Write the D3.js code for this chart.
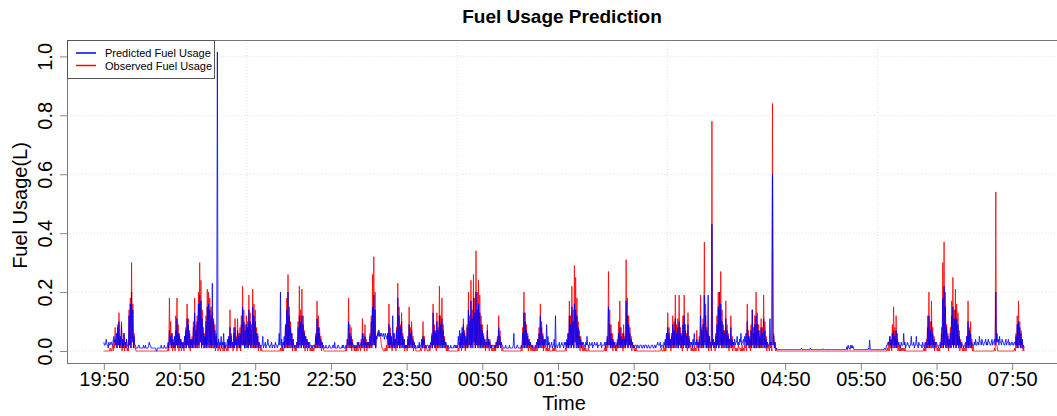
<!DOCTYPE html>
<html lang="en">

<head>
  <meta charset="UTF-8">
  <title>Fuel Usage Prediction</title>
  <style>
    body {
      margin: 0;
      background: #fff;
    }

    svg {
      display: block;
      font-family: "Liberation Sans", Arial, Helvetica, sans-serif;
    }

    .grid line {
      stroke: #e2e2e2;
      stroke-dasharray: 1 2;
    }

    .axis path.domain {
      display: none;
    }

    .axis line {
      stroke: #888;
    }

    .axis text {
      font-size: 20px;
      fill: #000;
    }
  </style>
</head>

<body>
  <div id="chart"></div>
  <script src="https://d3js.org/d3.v7.min.js"></script>
  <script>
    // readings are 30 seconds apart, starting at 19:50
    const startTime = '19:50'
    const stepSeconds = 30
    const tickLabels = ['19:50', '20:50', '21:50', '22:50', '23:50', '00:50', '01:50',
      '02:50', '03:50', '04:50', '05:50', '06:50', '07:50']
    const gridTimes = ['21:43:20', '00:30:00', '03:16:40', '06:03:20']
    const yTicks = [0, 0.2, 0.4, 0.6, 0.8, 1.0]

    // fuel used per reading, in centilitres (one row = 10 minutes)
    const observedCl = [
      0, 0, 0, 0, 0, 0, 0, 0, 0, 0, 1, 0, 0, 1, 2, 0, 4, 1, 8, 2,           // 19:50
      3, 1, 9, 2, 13, 1, 5, 1, 10, 0, 4, 1, 6, 0, 3, 1, 4, 0, 1, 0,
      14, 2, 18, 1, 30, 4, 16, 1, 6, 1, 1, 0, 0, 0, 0, 0, 0, 0, 0, 0,
      0, 0, 0, 0, 0, 0, 0, 0, 0, 0, 0, 0, 0, 0, 0, 0, 0, 0, 0, 0,
      0, 0, 0, 0, 0, 0, 0, 0, 0, 0, 0, 0, 0, 0, 0, 0, 0, 0, 0, 0,
      0, 0, 2, 0, 18, 3, 10, 1, 6, 0, 4, 1, 3, 0, 12, 2, 18, 1, 9, 0,       // 20:40
      6, 1, 4, 0, 3, 1, 2, 0, 5, 1, 8, 1, 16, 2, 11, 1, 7, 0, 4, 1,
      5, 1, 10, 1, 18, 2, 9, 1, 12, 2, 20, 1, 30, 3, 24, 1, 14, 2, 8, 1,
      6, 1, 12, 2, 21, 1, 20, 3, 18, 1, 15, 2, 13, 1, 11, 1, 9, 0, 6, 1,
      3, 0, 2, 1, 1, 0, 2, 1, 1, 0, 3, 0, 2, 1, 1, 0, 2, 0, 4, 1,
      14, 1, 6, 1, 3, 0, 8, 1, 11, 2, 5, 0, 11, 1, 6, 1, 8, 0, 12, 2,
      22, 2, 14, 1, 9, 1, 12, 2, 10, 1, 19, 2, 13, 1, 9, 1, 21, 3, 16, 1,   // 21:40
      14, 1, 8, 1, 6, 0, 3, 1, 2, 0, 1, 0, 0, 0, 0, 0, 0, 0, 0, 0,
      0, 0, 0, 0, 0, 0, 0, 0, 0, 0, 0, 0, 0, 0, 0, 0, 0, 0, 0, 0,
      1, 0, 2, 0, 1, 0, 3, 1, 8, 1, 18, 2, 26, 1, 15, 2, 10, 1, 6, 0,
      4, 1, 2, 0, 1, 0, 3, 1, 10, 1, 22, 2, 14, 1, 21, 2, 12, 1, 7, 0,
      5, 1, 4, 0, 3, 1, 2, 0, 1, 0, 1, 0, 1, 0, 2, 1, 6, 1, 17, 2,
      12, 1, 8, 1, 5, 0, 3, 1, 1, 0, 0, 0, 0, 0, 0, 0, 0, 0, 0, 0,
      0, 0, 0, 0, 0, 0, 0, 0, 0, 0, 0, 0, 0, 0, 0, 0, 0, 0, 0, 0,           // 22:50
      0, 0, 0, 0, 1, 0, 4, 1, 18, 2, 9, 1, 8, 0, 4, 1, 2, 0, 1, 0,
      1, 0, 2, 0, 3, 1, 2, 0, 4, 1, 11, 1, 6, 0, 9, 1, 4, 0, 3, 1,
      3, 1, 6, 1, 12, 2, 26, 3, 32, 2, 20, 1, 4, 5, 6, 7, 7, 6, 5, 4,
      2, 1, 1, 0, 0, 0, 1, 0, 2, 0, 6, 1, 16, 2, 8, 1, 4, 0, 3, 1,
      6, 1, 4, 0, 8, 1, 23, 2, 15, 1, 9, 1, 13, 2, 6, 1, 4, 0, 2, 1,
      2, 0, 5, 1, 15, 2, 8, 1, 10, 1, 5, 0, 3, 1, 1, 0, 0, 0, 0, 0,         // 23:50
      0, 0, 1, 0, 4, 1, 10, 1, 5, 0, 2, 1, 1, 0, 0, 0, 1, 0, 2, 1,
      6, 1, 16, 2, 9, 1, 7, 0, 13, 2, 8, 1, 22, 2, 12, 1, 18, 2, 9, 1,
      5, 1, 3, 0, 2, 0, 1, 0, 0, 0, 0, 0, 0, 0, 0, 0, 0, 0, 0, 0,
      0, 0, 1, 0, 3, 1, 5, 0, 6, 1, 11, 1, 7, 0, 4, 1, 9, 1, 20, 2,
      12, 2, 24, 1, 14, 3, 26, 2, 18, 1, 34, 3, 20, 2, 24, 1, 19, 2, 12, 1,
      9, 1, 6, 1, 4, 0, 3, 1, 9, 1, 4, 0, 4, 1, 2, 0, 1, 0, 1, 0,           // 00:50
      2, 0, 3, 1, 5, 1, 12, 2, 7, 1, 3, 0, 1, 0, 0, 0, 0, 0, 0, 0,
      0, 0, 0, 0, 0, 0, 0, 0, 0, 0, 0, 0, 0, 0, 0, 0, 0, 0, 0, 0,
      0, 0, 2, 0, 8, 1, 20, 2, 13, 1, 9, 1, 6, 0, 4, 1, 3, 0, 2, 0,
      1, 0, 1, 0, 1, 0, 2, 0, 4, 1, 8, 1, 16, 2, 10, 1, 6, 0, 4, 1,
      2, 0, 1, 0, 1, 0, 1, 0, 0, 0, 0, 0, 1, 0, 1, 0, 2, 0, 0, 0,
      0, 0, 0, 0, 0, 0, 0, 0, 0, 0, 0, 0, 1, 0, 3, 1, 6, 1, 17, 2,          // 01:50
      12, 1, 22, 2, 14, 1, 29, 3, 25, 2, 18, 1, 10, 1, 7, 0, 5, 1, 3, 0,
      2, 0, 1, 0, 1, 0, 0, 0, 1, 0, 0, 0, 0, 0, 0, 0, 0, 0, 0, 0,
      0, 0, 0, 0, 0, 0, 0, 0, 0, 0, 0, 0, 0, 0, 1, 0, 2, 0, 4, 1,
      27, 2, 14, 1, 9, 1, 6, 0, 4, 1, 3, 0, 2, 0, 4, 1, 10, 1, 17, 2,
      8, 1, 6, 0, 9, 1, 5, 1, 31, 3, 18, 1, 12, 2, 8, 1, 5, 0, 3, 1,
      2, 0, 1, 0, 1, 0, 0, 0, 0, 0, 0, 0, 0, 0, 0, 0, 0, 0, 0, 0,           // 02:50
      0, 0, 0, 0, 0, 0, 0, 0, 0, 0, 0, 0, 0, 0, 0, 0, 0, 0, 0, 0,
      0, 0, 0, 0, 1, 0, 0, 0, 1, 0, 2, 0, 6, 1, 13, 2, 8, 1, 4, 0,
      6, 1, 12, 2, 10, 1, 19, 2, 9, 1, 11, 1, 19, 2, 8, 1, 6, 0, 12, 2,
      19, 2, 9, 1, 6, 0, 13, 1, 5, 1, 2, 0, 1, 0, 1, 0, 2, 0, 1, 0,
      7, 1, 3, 0, 5, 1, 19, 2, 8, 1, 11, 2, 37, 3, 16, 1, 8, 1, 6, 0,
      5, 1, 3, 0, 78, 2, 4, 1, 3, 0, 6, 1, 12, 2, 20, 1, 14, 2, 27, 3,      // 03:50
      14, 1, 9, 2, 7, 1, 17, 2, 9, 1, 6, 0, 4, 1, 12, 1, 5, 0, 3, 1,
      2, 0, 1, 0, 1, 0, 2, 1, 1, 0, 1, 0, 2, 0, 1, 0, 2, 1, 3, 0,
      16, 2, 7, 1, 5, 0, 9, 1, 14, 2, 8, 1, 12, 1, 20, 2, 13, 1, 9, 1,
      7, 1, 11, 2, 8, 1, 19, 2, 10, 1, 5, 0, 3, 1, 2, 0, 3, 1, 2, 0,
      84, 3, 6, 1, 3, 0, 1, 0, 0, 0, 0, 0, 0, 0, 0, 0, 0, 0, 0, 0,
      0, 0, 0, 0, 0, 0, 0, 0, 0, 0, 0, 0, 0, 0, 0, 0, 0, 0, 0, 0,           // 04:50
      0, 0, 0, 0, 0, 0, 0, 0, 0, 0, 0, 0, 0, 0, 0, 0, 0, 0, 0, 0,
      0, 0, 0, 0, 0, 0, 0, 0, 0, 0, 0, 0, 0, 0, 0, 0, 0, 0, 0, 0,
      0, 0, 0, 0, 0, 0, 0, 0, 0, 0, 0, 0, 0, 0, 0, 0, 0, 0, 0, 0,
      0, 0, 0, 0, 0, 0, 0, 0, 0, 0, 0, 0, 0, 0, 0, 0, 0, 0, 0, 0,
      0, 0, 0, 0, 0, 0, 0, 0, 0, 0, 0, 0, 0, 0, 0, 0, 0, 0, 0, 0,
      0, 0, 0, 0, 0, 0, 0, 0, 0, 0, 0, 0, 0, 0, 0, 0, 0, 0, 0, 0,           // 05:50
      0, 0, 0, 0, 0, 0, 0, 0, 0, 0, 0, 0, 0, 0, 0, 0, 0, 0, 0, 0,
      0, 0, 1, 0, 3, 0, 5, 1, 4, 0, 9, 1, 15, 2, 8, 1, 12, 1, 6, 0,
      3, 0, 2, 0, 1, 0, 1, 0, 1, 0, 1, 0, 0, 0, 0, 0, 0, 0, 0, 0,
      0, 0, 0, 0, 0, 0, 0, 0, 0, 0, 0, 0, 0, 0, 0, 0, 0, 0, 0, 0,
      1, 0, 2, 0, 4, 1, 12, 1, 20, 2, 10, 1, 17, 2, 8, 1, 5, 0, 3, 1,
      2, 0, 1, 0, 1, 0, 2, 1, 8, 1, 30, 2, 37, 3, 20, 1, 9, 1, 6, 0,        // 06:50
      4, 1, 8, 1, 17, 2, 25, 1, 14, 2, 21, 1, 16, 2, 13, 1, 7, 0, 4, 1,
      2, 0, 1, 0, 1, 0, 2, 0, 5, 1, 17, 2, 8, 1, 10, 1, 4, 0, 2, 0,
      0, 0, 0, 0, 0, 0, 0, 0, 0, 0, 0, 0, 0, 0, 0, 0, 0, 0, 0, 0,
      0, 0, 0, 0, 0, 0, 0, 0, 0, 0, 0, 0, 1, 0, 54, 2, 2, 0, 0, 0,
      0, 0, 0, 0, 0, 0, 0, 0, 0, 0, 0, 0, 0, 0, 0, 0, 0, 0, 0, 0,
      0, 0, 0, 0, 1, 0, 6, 1, 12, 1, 17, 2, 10, 1, 7, 1, 4, 0, 1, 0         // 07:50
    ]

    const predictedCl = [
      3, 2, 2, 3, 4, 2, 2, 1, 3, 2, 2, 3, 3, 2, 2, 4, 5, 3, 4, 2,           // 19:50
      6, 1, 8, 2, 10, 1, 5, 2, 9, 1, 4, 1, 6, 2, 3, 1, 4, 2, 2, 1,
      12, 2, 16, 1, 20, 3, 14, 1, 5, 2, 2, 1, 1, 1, 1, 2, 2, 1, 1, 1,
      1, 1, 1, 2, 1, 1, 2, 1, 1, 1, 1, 2, 3, 2, 2, 1, 1, 1, 1, 1,
      1, 1, 1, 0, 0, 1, 1, 1, 1, 1, 1, 2, 1, 1, 1, 1, 2, 1, 1, 1,
      1, 2, 3, 1, 7, 2, 5, 1, 6, 2, 3, 1, 5, 1, 7, 2, 11, 1, 6, 2,          // 20:40
      5, 1, 4, 2, 3, 1, 3, 1, 5, 2, 7, 1, 11, 2, 9, 1, 6, 1, 4, 2,
      4, 1, 8, 2, 13, 1, 7, 2, 10, 1, 16, 2, 19, 3, 17, 1, 11, 2, 6, 1,
      5, 2, 10, 1, 15, 2, 16, 1, 14, 2, 12, 1, 23, 2, 10, 1, 7, 2, 5, 1,
      101.5, 2, 4, 1, 3, 2, 5, 1, 3, 2, 6, 1, 3, 1, 2, 2, 4, 1, 5, 2,
      8, 1, 5, 2, 3, 1, 6, 1, 8, 2, 4, 1, 7, 2, 5, 1, 6, 1, 9, 2,
      15, 2, 10, 1, 7, 2, 9, 1, 8, 1, 14, 2, 10, 1, 7, 2, 15, 1, 12, 2,     // 21:40
      10, 1, 6, 2, 5, 1, 3, 2, 2, 1, 2, 2, 5, 1, 2, 2, 3, 1, 2, 2,
      4, 2, 2, 1, 2, 2, 3, 1, 2, 2, 2, 1, 3, 2, 2, 1, 2, 2, 6, 2,
      20, 2, 4, 1, 3, 2, 5, 1, 9, 2, 14, 1, 20, 2, 12, 1, 8, 2, 6, 1,
      4, 2, 2, 1, 2, 1, 3, 2, 8, 1, 12, 2, 10, 1, 12, 2, 9, 1, 6, 2,
      5, 1, 4, 2, 3, 1, 3, 2, 2, 1, 2, 1, 2, 2, 2, 1, 5, 2, 11, 1,
      8, 2, 6, 1, 4, 2, 3, 1, 2, 1, 1, 1, 2, 1, 1, 1, 1, 2, 2, 1,
      1, 1, 1, 2, 2, 1, 3, 1, 1, 1, 1, 2, 2, 1, 1, 1, 1, 1, 2, 1,           // 22:50
      2, 1, 1, 1, 2, 1, 4, 2, 10, 1, 6, 2, 5, 1, 3, 2, 2, 1, 2, 1,
      2, 1, 3, 2, 3, 1, 2, 2, 3, 1, 6, 2, 4, 1, 5, 2, 3, 1, 3, 2,
      3, 1, 5, 2, 10, 1, 15, 2, 19, 2, 14, 1, 5, 4, 6, 5, 7, 5, 6, 5,
      6, 5, 5, 6, 5, 4, 6, 5, 5, 4, 6, 2, 9, 1, 6, 2, 5, 1, 12, 2,
      6, 1, 4, 2, 7, 1, 18, 2, 12, 1, 8, 2, 10, 1, 5, 2, 4, 1, 2, 1,
      2, 1, 4, 2, 9, 1, 6, 2, 7, 1, 4, 2, 3, 1, 2, 1, 1, 1, 2, 1,           // 23:50
      3, 1, 2, 2, 4, 1, 5, 2, 4, 1, 2, 1, 2, 2, 2, 1, 2, 1, 3, 2,
      5, 1, 13, 2, 7, 1, 6, 2, 10, 1, 7, 2, 12, 1, 9, 2, 11, 1, 7, 2,
      4, 1, 3, 2, 2, 1, 2, 1, 1, 1, 2, 1, 1, 1, 1, 2, 2, 1, 2, 1,
      2, 1, 5, 2, 7, 1, 6, 2, 8, 1, 9, 2, 6, 1, 5, 2, 8, 1, 14, 2,
      10, 1, 17, 2, 11, 1, 18, 3, 13, 1, 20, 2, 14, 1, 16, 2, 13, 1, 9, 2,
      7, 1, 5, 2, 4, 1, 3, 2, 7, 1, 4, 2, 3, 1, 2, 1, 2, 2, 2, 1,           // 00:50
      2, 1, 3, 2, 4, 1, 8, 2, 5, 1, 3, 2, 2, 1, 1, 1, 1, 2, 1, 1,
      1, 1, 1, 2, 1, 1, 1, 1, 1, 2, 6, 1, 1, 1, 1, 2, 2, 1, 1, 1,
      1, 1, 2, 1, 6, 2, 13, 1, 10, 2, 7, 1, 5, 2, 4, 1, 3, 2, 2, 1,
      2, 1, 1, 1, 2, 1, 3, 2, 4, 1, 6, 2, 12, 1, 8, 2, 5, 1, 4, 2,
      4, 2, 9, 1, 5, 2, 3, 1, 2, 2, 3, 1, 2, 2, 4, 1, 12, 2, 2, 1,
      2, 2, 3, 1, 2, 2, 3, 2, 2, 1, 3, 2, 3, 1, 4, 2, 6, 1, 12, 2,          // 01:50
      9, 1, 15, 2, 10, 1, 16, 3, 14, 1, 12, 2, 8, 1, 5, 2, 4, 1, 3, 2,
      3, 2, 2, 1, 3, 2, 5, 2, 2, 1, 3, 2, 2, 2, 3, 1, 2, 2, 3, 2,
      2, 2, 3, 1, 2, 2, 2, 2, 3, 1, 2, 2, 2, 2, 3, 1, 3, 2, 5, 2,
      15, 2, 9, 1, 6, 2, 4, 1, 3, 2, 3, 1, 2, 2, 3, 1, 6, 2, 8, 1,
      5, 2, 4, 1, 6, 2, 4, 1, 17, 2, 12, 1, 9, 2, 6, 1, 4, 2, 3, 1,
      2, 1, 2, 2, 2, 1, 2, 2, 1, 1, 2, 2, 2, 1, 1, 2, 2, 1, 2, 2,           // 02:50
      2, 1, 1, 2, 2, 1, 1, 1, 2, 2, 2, 1, 1, 2, 2, 1, 2, 2, 3, 2,
      2, 2, 3, 1, 2, 2, 2, 1, 3, 2, 4, 1, 6, 2, 8, 1, 6, 2, 4, 1,
      5, 2, 9, 1, 7, 2, 11, 1, 6, 2, 8, 1, 10, 2, 6, 1, 5, 2, 9, 1,
      12, 2, 7, 1, 5, 2, 9, 1, 4, 2, 3, 2, 3, 1, 4, 2, 6, 2, 3, 2,
      4, 2, 3, 1, 4, 2, 12, 1, 7, 2, 9, 1, 19, 2, 12, 1, 7, 2, 19, 1,
      5, 2, 3, 1, 43, 2, 4, 1, 3, 2, 5, 1, 9, 2, 15, 1, 20, 2, 16, 1,       // 03:50
      10, 2, 7, 1, 6, 2, 11, 1, 7, 2, 5, 1, 4, 2, 8, 1, 4, 2, 3, 2,
      4, 2, 3, 3, 5, 2, 3, 2, 4, 3, 6, 2, 3, 3, 4, 2, 5, 3, 6, 2,
      10, 2, 5, 1, 4, 2, 7, 1, 14, 2, 6, 1, 9, 2, 12, 1, 9, 2, 7, 1,
      5, 2, 8, 1, 6, 2, 11, 1, 7, 2, 4, 1, 3, 2, 2, 2, 11, 2, 3, 2,
      60, 2, 5, 1, 3, 1, 1, .5, .5, .5, .5, .5, .5, .5, .5, .5, .5, .5, .5, .5,
      .5, .5, .5, .5, .5, .5, .5, .5, .5, .5, .5, .5, .5, .5, .5, .5, .5, .5, .5, .5,  // 04:50
      .5, .5, .5, .5, .5, .5, 1, .5, .5, .5, .5, .5, .5, .5, .5, .5, .5, .5, .5, .5,
      1, .5, .5, .5, .5, .5, .5, .5, .5, .5, .5, .5, .5, .5, .5, .5, .5, .5, .5, .5,
      .8, .5, .5, .5, .5, .5, .5, .5, .5, .5, .5, .5, .5, .5, .5, .5, .5, .5, .5, .5,
      .5, .5, .5, .5, .5, .5, .5, .5, .5, .5, .5, .5, .5, .5, .5, .5, .5, .5, 1.5, .5,
      2, 1, 1, .5, 2, 1, 2, 1, 1.5, .5, .5, .5, .5, .5, .5, .5, .5, .5, .5, .5,
      .5, .5, .5, .5, .5, .5, .5, .5, .5, .5, .5, .5, 1, .5, 3.7, .5, .5, .5, .5, .5,  // 05:50
      .5, .5, .5, .5, .5, .5, .5, .5, .5, .5, .5, .5, .5, .5, .5, .5, .5, .5, 1, .5,
      1, 2, 2, 3, 3, 2, 5, 2, 4, 1, 6, 2, 7, 1, 5, 2, 7, 1, 4, 2,
      3, 2, 2, 1, 3, 2, 2, 2, 6, 2, 3, 1, 2, 2, 3, 2, 2, 1, 2, 2,
      5, 2, 2, 2, 3, 1, 2, 2, 5, 2, 2, 1, 3, 2, 2, 2, 2, 1, 3, 2,
      2, 1, 3, 2, 3, 1, 8, 2, 12, 1, 7, 2, 10, 1, 6, 2, 4, 1, 3, 2,
      3, 2, 2, 1, 2, 2, 3, 1, 6, 2, 18, 1, 22, 2, 15, 1, 8, 2, 5, 1,        // 06:50
      4, 2, 6, 1, 12, 2, 15, 1, 11, 2, 14, 1, 11, 2, 9, 1, 5, 2, 3, 1,
      3, 2, 2, 1, 2, 2, 3, 1, 5, 2, 10, 1, 7, 2, 6, 1, 3, 2, 2, 2,
      3, 2, 4, 2, 2, 3, 3, 2, 5, 3, 3, 2, 4, 3, 2, 2, 3, 3, 4, 2,
      3, 2, 4, 3, 3, 2, 2, 3, 4, 2, 3, 3, 4, 2, 20, 3, 6, 3, 4, 2,
      5, 3, 3, 2, 4, 3, 3, 2, 2, 3, 4, 2, 3, 3, 4, 2, 3, 2, 2, 3,
      3, 2, 2, 3, 3, 2, 5, 2, 9, 1, 10, 2, 8, 1, 6, 2, 4, 1, 2, 1           // 07:50
    ]

    // clock time -> Date, hours before noon fall on the next day
    function toDate(str) {
      let [h, m, s] = str.split(':').map(Number)
      return new Date(2000, 0, h < 12 ? 2 : 1, h, m, s || 0)
    }

    const t0 = toDate(startTime)
    const toPoints = arr => arr.map((v, i) => ({ t: new Date(+t0 + i * stepSeconds * 1000), v: v / 100 }))
    const observed = toPoints(observedCl)
    const predicted = toPoints(predictedCl)

    const W = 1057, H = 416
    const pLeft = 67, pTop = 40, pRight = 1061, pBottom = 363

    // R-style 4% padding on both axes
    const tExt = d3.extent(observed, d => d.t)
    const tPad = (tExt[1] - tExt[0]) * 0.04
    const xScale = d3.scaleTime()
      .domain([new Date(+tExt[0] - tPad), new Date(+tExt[1] + tPad)])
      .range([pLeft, pRight])

    const vMax = d3.max(observed.concat(predicted), d => d.v)
    const vPad = vMax * 0.04
    const yScale = d3.scaleLinear()
      .domain([-vPad, vMax + vPad])
      .range([pBottom, pTop])

    const svg = d3.select('#chart').append('svg')
      .attr('width', W)
      .attr('height', H)

    // dotted grid
    const grid = svg.append('g').attr('class', 'grid')
    grid.selectAll('.gx')
      .data(gridTimes.map(toDate))
      .enter().append('line')
      .attr('x1', d => xScale(d)).attr('x2', d => xScale(d))
      .attr('y1', pTop).attr('y2', pBottom)
    grid.selectAll('.gy')
      .data(yTicks)
      .enter().append('line')
      .attr('x1', pLeft).attr('x2', pRight)
      .attr('y1', d => yScale(d)).attr('y2', d => yScale(d))

    const line = d3.line()
      .x(d => xScale(d.t))
      .y(d => yScale(d.v))

    svg.append('path')
      .datum(observed)
      .attr('d', line)
      .attr('fill', 'none')
      .attr('stroke', 'red')
      .attr('stroke-opacity', 0.8)
      .attr('stroke-width', 1)

    svg.append('path')
      .datum(predicted)
      .attr('d', line)
      .attr('fill', 'none')
      .attr('stroke', 'blue')
      .attr('stroke-opacity', 0.8)
      .attr('stroke-width', 1)

    // x axis
    const xAxis = d3.axisBottom(xScale)
      .tickValues(tickLabels.map(toDate))
      .tickFormat((d, i) => tickLabels[i])
      .tickSize(7)
    svg.append('g')
      .attr('class', 'axis')
      .attr('transform', `translate(0, ${pBottom})`)
      .call(xAxis)
      .selectAll('text')
      .attr('y', 23)
      .attr('dy', 0)

    // y axis, labels turned to read upwards
    const yAxis = d3.axisLeft(yScale)
      .tickValues(yTicks)
      .tickFormat(d3.format('.1f'))
      .tickSize(7)
    svg.append('g')
      .attr('class', 'axis')
      .attr('transform', `translate(${pLeft}, 0)`)
      .call(yAxis)
      .selectAll('text')
      .attr('transform', 'rotate(-90)')
      .attr('text-anchor', 'middle')
      .attr('x', 0)
      .attr('y', -15)
      .attr('dy', 0)

    // plot box
    svg.append('rect')
      .attr('x', pLeft + 0.5).attr('y', pTop + 0.5)
      .attr('width', pRight - pLeft).attr('height', pBottom - pTop)
      .attr('fill', 'none')
      .attr('stroke', '#777')

    // titles
    svg.append('text')
      .attr('x', (pLeft + pRight) / 2 - 2).attr('y', 23)
      .attr('text-anchor', 'middle')
      .attr('font-size', 19)
      .attr('font-weight', 'bold')
      .text('Fuel Usage Prediction')
    svg.append('text')
      .attr('x', (pLeft + pRight) / 2).attr('y', 410)
      .attr('text-anchor', 'middle')
      .attr('font-size', 20)
      .text('Time')
    svg.append('text')
      .attr('transform', `translate(27, ${(pTop + pBottom) / 2 + 4}) rotate(-90)`)
      .attr('text-anchor', 'middle')
      .attr('font-size', 20)
      .text('Fuel Usage(L)')

    // legend
    const legendItems = [
      { label: 'Predicted Fuel Usage', color: 'blue' },
      { label: 'Observed Fuel Usage', color: 'red' }
    ]
    const legend = svg.append('g').attr('transform', `translate(${pLeft}, ${pTop})`)
    legend.append('rect')
      .attr('x', 0.5).attr('y', 0.5)
      .attr('width', 147).attr('height', 38)
      .attr('fill', '#fff')
      .attr('stroke', '#555')
    const item = legend.selectAll('.item')
      .data(legendItems)
      .enter().append('g')
      .attr('transform', (d, i) => `translate(0, ${13 + i * 12.5})`)
    item.append('line')
      .attr('x1', 9).attr('x2', 29)
      .attr('stroke', d => d.color)
      .attr('stroke-width', 1.5)
    item.append('text')
      .attr('x', 38).attr('y', 4)
      .attr('font-size', 11)
      .text(d => d.label)
  </script>
</body>

</html>
